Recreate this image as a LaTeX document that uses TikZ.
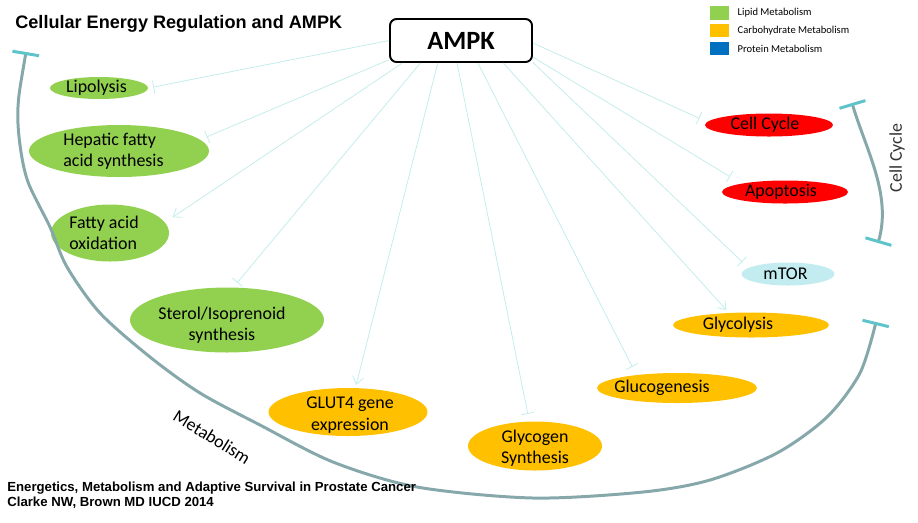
\documentclass[tikz,border=0pt]{standalone}
\usepackage{fontspec}
\setmainfont{Carlito}
\newfontfamily\arialfont{Liberation Sans}
\usetikzlibrary{arrows.meta,shapes.geometric,positioning}
\definecolor{lipidc}{HTML}{92D050}
\definecolor{carbc}{HTML}{FFC000}
\definecolor{protc}{HTML}{0070C0}
\definecolor{apopc}{HTML}{FF0000}
\definecolor{mtorc}{HTML}{C2ECEF}
\definecolor{arcc}{HTML}{86A8AB}
\definecolor{barc}{HTML}{5FC4CA}
\definecolor{linkc}{HTML}{C4ECEC}

\begin{document}
\begin{tikzpicture}[x=0.02cm,y=-0.02cm,
  proc/.style={ellipse,inner sep=0pt},
  lbl/.style={font=\fontsize{10.2}{12.2}\selectfont,align=center,inner sep=0pt},
  link/.style={draw=linkc,line width=0.45pt},
  inhib/.style={link,-{Bar[width=0.26cm]}},
  act/.style={link,-{Straight Barb[length=0.15cm,width=0.22cm]}},
  phase/.style={draw=arcc,line width=1.7pt,{Bar[color=barc,width=0.54cm]}-{Bar[color=barc,width=0.54cm]}},
  legbox/.style={minimum width=0.38cm,minimum height=0.27cm,inner sep=0pt},
  legtxt/.style={font=\fontsize{6}{7}\selectfont,inner sep=0pt}]
  \useasboundingbox (0,0) rectangle (918,522);
  \node[anchor=base west,inner sep=0pt,font=\arialfont\bfseries\fontsize{10.3}{12}\selectfont] (title) at (15,28) {Cellular Energy Regulation and AMPK};
  \node[draw,rounded corners=0.13cm,line width=1.1pt,minimum width=2.84cm,minimum height=0.86cm,font=\bfseries\fontsize{15}{18}\selectfont] (ampk) at (461,40.5) {AMPK};
  \node[legbox,fill=lipidc] (k1) at (719.5,13) {};
  \node[legbox,fill=carbc,below=0.07cm of k1] (k2) {};
  \node[legbox,fill=protc,below=0.07cm of k2] (k3) {};
  \node[legtxt,right=0.16cm of k1] (k1t) {Lipid Metabolism};
  \node[legtxt,right=0.16cm of k2] (k2t) {Carbohydrate Metabolism};
  \node[legtxt,right=0.16cm of k3] (k3t) {Protein Metabolism};
  \node[proc,fill=lipidc,minimum width=1.96cm,minimum height=0.44cm,label={[lbl,xshift=-0.05cm]center:Lipolysis}] (lipo) at (99,88) {};
  \node[proc,fill=lipidc,minimum width=3.6cm,minimum height=1.04cm,label={[lbl,align=left,xshift=-0.11cm]center:Hepatic fatty\\acid synthesis}] (hep) at (119,151) {};
  \node[proc,fill=lipidc,minimum width=2.36cm,minimum height=1.14cm,label={[lbl,align=left,xshift=-0.12cm]center:Fatty acid\\oxidation}] (fao) at (110,233) {};
  \node[proc,fill=lipidc,minimum width=3.88cm,minimum height=1.3cm,label={[lbl,xshift=-0.1cm,yshift=-0.1cm]center:Sterol/Isoprenoid\\synthesis}] (sterol) at (227,320) {};
  \node[proc,fill=carbc,minimum width=3.18cm,minimum height=0.96cm,label={[lbl,xshift=0.04cm,yshift=-0.06cm]center:GLUT4 gene\\expression}] (glut) at (348,412) {};
  \node[proc,fill=carbc,minimum width=2.68cm,minimum height=0.98cm,label={[lbl,yshift=-0.04cm]center:Glycogen\\Synthesis}] (glyc) at (535,446) {};
  \node[proc,fill=carbc,minimum width=3.2cm,minimum height=0.6cm,label={[lbl,xshift=-0.3cm]center:Glucogenesis}] (gluco) at (677,388) {};
  \node[proc,fill=carbc,minimum width=3.12cm,minimum height=0.5cm,label={[lbl,xshift=-0.26cm]center:Glycolysis}] (glycol) at (751,325) {};
  \node[proc,fill=mtorc,minimum width=1.86cm,minimum height=0.46cm,label={[lbl,xshift=-0.05cm]center:mTOR}] (mtor) at (788,274) {};
  \node[proc,fill=apopc,minimum width=2.52cm,minimum height=0.46cm,label={[lbl,xshift=-0.08cm]center:Apoptosis}] (apop) at (785,192) {};
  \node[proc,fill=apopc,minimum width=2.56cm,minimum height=0.46cm,label={[lbl,xshift=-0.08cm]center:Cell Cycle}] (cc) at (769,125) {};
  \draw[inhib,shorten >=0.1cm] (ampk.180) -- (lipo.east);
  \draw[inhib,shorten >=0.14cm] (ampk.195) -- (hep.8);
  \draw[act,shorten >=0.18cm] (ampk.201) -- (fao.11);
  \draw[inhib,shorten >=0.12cm] (ampk.209) -- (sterol.79);
  \draw[act,shorten >=0.06cm] (ampk.224) -- (glut.73);
  \draw[inhib,shorten >=0.15cm] (ampk.260) -- (glyc.103);
  \draw[inhib,shorten >=0.18cm] (ampk.307) -- (gluco.162);
  \draw[act,shorten >=0.07cm] (ampk.332) -- (glycol.151);
  \draw[inhib,shorten >=0.17cm] (ampk.343) -- (mtor.171);
  \draw[inhib,shorten >=0.26cm] (ampk.347) -- (apop.169);
  \draw[inhib,shorten >=0.17cm] (ampk.358) -- (cc.177);
  \draw[phase] plot[smooth] coordinates {(26,52) (18,107) (20,145) (28,182) (50,227) (67,267) (100,313) (150,357) (200,393) (260,425) (333,462) (417,487) (533,498) (643,492) (710,480) (777,453) (827,417) (860,373) (876,322)};
  \draw[phase] (852,103) .. controls (866,150) and (892,195) .. (878,243);
  \node[lbl,rotate=-32] (metlbl) at (212,437) {Metabolism};
  \node[lbl,rotate=90,text=black!80] (cclbl) at (897,158) {Cell Cycle};
  \node[anchor=west,align=left,inner sep=0pt,font=\arialfont\bfseries\fontsize{7.5}{8.6}\selectfont] (cite) at (7,495) {Energetics, Metabolism and Adaptive Survival in Prostate Cancer\\Clarke NW, Brown MD IUCD 2014};
\end{tikzpicture}
\end{document}
